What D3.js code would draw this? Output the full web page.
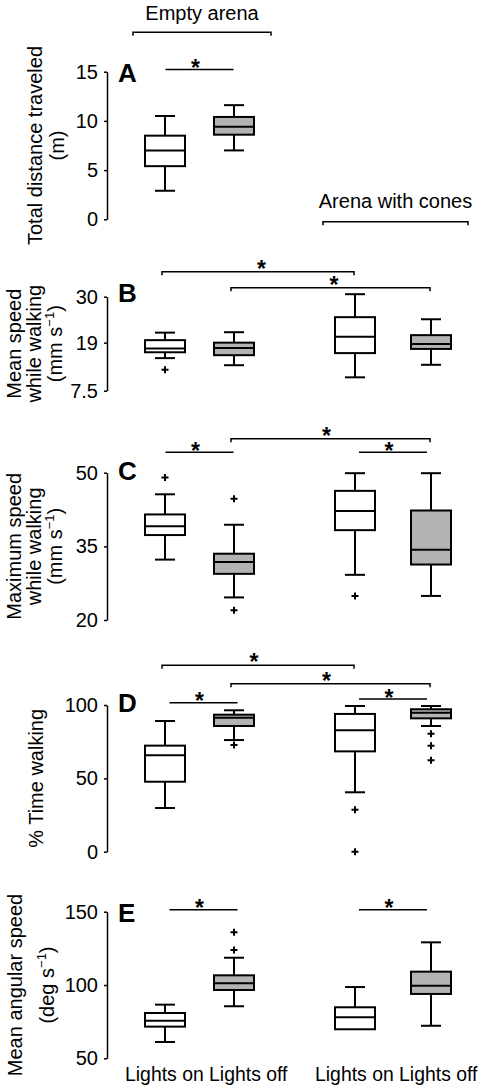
<!DOCTYPE html>
<html>
<head>
<meta charset="utf-8">
<script src="https://cdn.jsdelivr.net/npm/d3@7"></script>
<style>
  html, body { margin: 0; padding: 0; background: #fff; }
  svg text { font-family: "Liberation Sans", Arial, Helvetica, sans-serif; fill: #000; }
</style>
</head>
<body>
<svg id="chart" width="480" height="1085"></svg>
<script>
// ---------------- DATA ----------------
const categories = ["Lights on (empty)", "Lights off (empty)", "Lights on (cones)", "Lights off (cones)"];
const xLabels = ["Lights on", "Lights off"];
const arenaLabels = ["Empty arena", "Arena with cones"];
const lightsOff = [false, true, false, true];

// box stats: [lower whisker, q1, median, q3, upper whisker]
const distanceStats = [[2.9, 5.4, 7.0, 8.5, 10.5], [7.0, 8.6, 9.4, 10.4, 11.6]];
const distanceOutliers = [[], []];
const distanceTicks = [0, 5, 10, 15];

const meanSpeedStats = [[15.3, 16.7, 17.6, 19.6, 21.4], [13.6, 16.0, 17.7, 19.0, 21.5],
                        [10.7, 16.5, 20.4, 25.1, 30.6], [13.7, 17.5, 18.7, 20.8, 24.6]];
const meanSpeedOutliers = [[12.5], [], [], []];
const meanSpeedTicks = [7.5, 19, 30];

const maxSpeedStats = [[32.3, 37.3, 39.1, 41.5, 45.6], [24.6, 29.4, 31.8, 33.5, 39.4],
                       [29.2, 38.3, 42.2, 46.3, 49.9], [24.9, 31.3, 34.3, 42.3, 49.9]];
const maxSpeedOutliers = [[49.0], [44.7, 22.0], [24.9], []];
const maxSpeedTicks = [20, 35, 50];

const walkingStats = [[29.8, 47.7, 65.7, 72.3, 89.1], [76.1, 85.7, 91.3, 93.4, 96.4],
                      [40.5, 68.4, 82.8, 93.9, 99.3], [85.7, 90.9, 94.8, 97.1, 99.3]];
const walkingOutliers = [[], [72.7], [28.6, 0], [80.4, 72.3, 62.3]];
const walkingTicks = [0, 50, 100];

const angularStats = [[61.1, 71.6, 75.6, 80.9, 86.6], [85.5, 96.6, 101.2, 106.6, 118.6],
                      [69.8, 69.8, 78.0, 84.8, 98.6], [72.2, 93.9, 99.5, 109.1, 129.1]];
const angularOutliers = [[], [123.9, 135.9], [], []];
const angularTicks = [50, 100, 150];

// significant comparisons (pairs of category indices)
const distanceSig = [[0, 1]];
const meanSpeedSig = [[0, 2], [1, 3]];
const maxSpeedSig = [[0, 1], [1, 3], [2, 3]];
const walkingSig = [[0, 2], [1, 3], [0, 1], [2, 3]];
const angularSig = [[0, 1], [2, 3]];

// ---------------- LAYOUT ----------------
const svg = d3.select("#chart");
const x = d3.scaleOrdinal().domain(categories).range([165, 234, 355, 431]);
const axisX = 107;
const boxW = 40, capW = 20;
const grey = "#b3b3b3";

const panels = [
  { letter: "A", stats: distanceStats, outliers: distanceOutliers, ticks: distanceTicks, domain: [0, 15],
    range: [219.3, 71.7], letterY: 82,
    title: [["Total distance traveled"], ["(m)"]], titleX: [42, 64],
    sig: distanceSig, sigLayout: [{ dy: -2.3, bracket: false, sdx: -4 }] },
  { letter: "B", stats: meanSpeedStats, outliers: meanSpeedOutliers, ticks: meanSpeedTicks, domain: [7.5, 30],
    range: [390.7, 296.7], letterY: 302,
    title: [["Mean speed"], ["while walking"], ["(mm s", "−1", ")"]], titleX: [21, 41, 62],
    sig: meanSpeedSig, sigLayout: [{ dy: -25, bracket: true, sdx: 3.5 }, { dy: -9, bracket: true, sdx: 3.5 }] },
  { letter: "C", stats: maxSpeedStats, outliers: maxSpeedOutliers, ticks: maxSpeedTicks, domain: [20, 50],
    range: [620, 472.7], letterY: 480,
    title: [["Maximum speed"], ["while walking"], ["(mm s", "−1", ")"]], titleX: [21, 41, 62],
    sig: maxSpeedSig, sigLayout: [{ dy: -20.4, bracket: false, sdx: -4 }, { dy: -34, bracket: true, sdx: -4 }, { dy: -20.4, bracket: false, sdx: -4 }] },
  { letter: "D", stats: walkingStats, outliers: walkingOutliers, ticks: walkingTicks, domain: [0, 100],
    range: [851.7, 705], letterY: 712,
    title: [["% Time walking"]], titleX: [43],
    sig: walkingSig, sigLayout: [{ dy: -39.7, bracket: true, sdx: -4 }, { dy: -21.3, bracket: true, sdx: -4 }, { dy: -2.3, bracket: false, sdx: -4, shift: 4 }, { dy: -6, bracket: false, sdx: -4 }] },
  { letter: "E", stats: angularStats, outliers: angularOutliers, ticks: angularTicks, domain: [50, 150],
    range: [1058.3, 911.7], letterY: 922,
    title: [["Mean angular speed"], ["(deg s", "−1", ")"]], titleX: [22, 54],
    sig: angularSig, sigLayout: [{ dy: -2, bracket: false, sdx: -4, shift: 4 }, { dy: -2, bracket: false, sdx: -4 }] }
];

// ---------------- ARENA HEADERS ----------------
const headers = [
  { label: arenaLabels[0], a: categories[0], b: categories[1], textY: 19.5, lineY: 32.3 },
  { label: arenaLabels[1], a: categories[2], b: categories[3], textY: 207.6, lineY: 221.7 }
];
headers.forEach(h => {
  const x1 = x(h.a) - 32, x2 = x(h.b) + 37;
  svg.append("text").attr("x", (x1 + x2) / 2).attr("y", h.textY)
    .attr("text-anchor", "middle").attr("font-size", 20).text(h.label);
  svg.append("path")
    .attr("d", `M${x1},${h.lineY + 3.5}V${h.lineY}H${x2}V${h.lineY + 3.5}`)
    .attr("fill", "none").attr("stroke", "#000").attr("stroke-width", 1.5);
});

// ---------------- PANELS ----------------
panels.forEach(p => {
  const y = d3.scaleLinear().domain(p.domain).range(p.range);
  const g = svg.append("g");

  const ax = g.append("g").attr("transform", `translate(${axisX},0)`)
    .call(d3.axisLeft(y).tickValues(p.ticks).tickSize(3).tickSizeOuter(0).tickPadding(6)
      .tickFormat(d => String(d)));
  ax.select(".domain").attr("stroke", "#000").attr("stroke-width", 1.5);
  ax.selectAll(".tick line").attr("stroke", "#000").attr("stroke-width", 1.5);
  ax.selectAll(".tick text").attr("font-size", 20).attr("font-family", "Liberation Sans, Arial, sans-serif").attr("fill", "#000");

  g.append("text").attr("x", 118).attr("y", p.letterY).attr("font-size", 26)
    .attr("font-weight", "bold").text(p.letter);

  const yc = (p.range[0] + p.range[1]) / 2;
  p.title.forEach((parts, i) => {
    const t = g.append("text")
      .attr("transform", `translate(${p.titleX[i]},${yc}) rotate(-90)`)
      .attr("text-anchor", "middle").attr("font-size", 20);
    if (parts.length === 1) t.text(parts[0]);
    else {
      t.append("tspan").text(parts[0]);
      t.append("tspan").attr("font-size", 13).attr("dy", -8).text(parts[1]);
      t.append("tspan").attr("dy", 8).text(parts[2]);
    }
  });

  const boxes = g.selectAll("g.box").data(p.stats).join("g").attr("class", "box");
  boxes.each(function (s, i) {
    const cx = x(categories[i]);
    const b = d3.select(this);
    const [lo, q1, med, q3, hi] = s;
    const line = (x1, y1, x2, y2) => b.append("line").attr("x1", x1).attr("y1", y1).attr("x2", x2).attr("y2", y2)
      .attr("stroke", "#000").attr("stroke-width", 2);
    if (hi > q3) { line(cx, y(hi), cx, y(q3)); line(cx - capW / 2, y(hi), cx + capW / 2, y(hi)); }
    if (lo < q1) { line(cx, y(q1), cx, y(lo)); line(cx - capW / 2, y(lo), cx + capW / 2, y(lo)); }
    b.append("rect").attr("x", cx - boxW / 2).attr("y", y(q3)).attr("width", boxW)
      .attr("height", y(q1) - y(q3)).attr("fill", lightsOff[i] ? grey : "#fff")
      .attr("stroke", "#000").attr("stroke-width", 2);
    line(cx - boxW / 2, y(med), cx + boxW / 2, y(med));
    p.outliers[i].forEach(v => {
      b.append("path").attr("d", `M${cx - 3.5},${y(v)}H${cx + 3.5}M${cx},${y(v) - 3.5}V${y(v) + 3.5}`)
        .attr("stroke", "#000").attr("stroke-width", 2).attr("fill", "none");
    });
  });

  const top = p.range[1];
  p.sig.forEach(([a, b], k) => {
    const L = p.sigLayout[k];
    const ly = top + L.dy;
    let x1, x2;
    if (L.bracket) {
      x1 = x(categories[a]) - 3; x2 = x(categories[b]) - 1;
      g.append("path").attr("d", `M${x1},${ly + 3.5}V${ly}H${x2}V${ly + 3.5}`)
        .attr("fill", "none").attr("stroke", "#000").attr("stroke-width", 1.5);
    } else {
      const mid = (x(categories[a]) + x(categories[b])) / 2 + (L.shift || 0);
      x1 = mid - 34; x2 = mid + 34;
      g.append("line").attr("x1", x1).attr("x2", x2).attr("y1", ly).attr("y2", ly)
        .attr("stroke", "#000").attr("stroke-width", 1.5);
    }
    const sy = ly - (L.bracket ? 8.5 : 7);
    g.append("text").attr("x", (x1 + x2) / 2 + L.sdx).attr("y", sy + 13.5)
      .attr("text-anchor", "middle").attr("font-size", 23).attr("font-weight", "bold").text("*");
  });
});

// ---------------- X LABELS ----------------
[[categories[0], categories[1]], [categories[2], categories[3]]].forEach(pair => {
  const t = svg.append("text").attr("x", x(pair[0]) - 40).attr("y", 1081).attr("font-size", 19.4);
  t.append("tspan").text(xLabels[0]);
  t.append("tspan").text(" " + xLabels[1]);
});
</script>
</body>
</html>
